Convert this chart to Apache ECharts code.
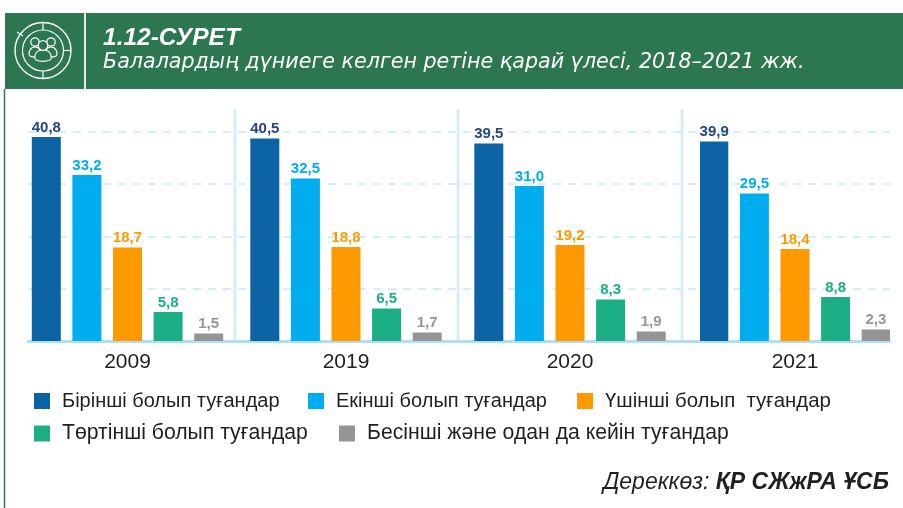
<!DOCTYPE html>
<html lang="kk">
<head>
<meta charset="utf-8">
<title>1.12-СУРЕТ</title>
<script src="https://cdn.jsdelivr.net/npm/echarts@6/dist/echarts.min.js"></script>
<style>
  html, body { margin: 0; background: #fff; }
  #chart { width: 903px; height: 508px; }
</style>
</head>
<body>
<div id="chart"></div>
<script>
var years = ['2009', '2019', '2020', '2021'];
var seriesNames = ['Бірінші болып туғандар', 'Екінші болып туғандар', 'Үшінші болып  туғандар', 'Төртінші болып туғандар', 'Бесінші және одан да кейін туғандар'];
var first = [40.8, 40.5, 39.5, 39.9];
var second = [33.2, 32.5, 31.0, 29.5];
var third = [18.7, 18.8, 19.2, 18.4];
var fourth = [5.8, 6.5, 8.3, 8.8];
var fifth = [1.5, 1.7, 1.9, 2.3];
var values = [first, second, third, fourth, fifth];

var barColors = ['#0c63a3', '#00aeef', '#ff9900', '#1cae85', '#959595'];
var labelColors = ['#27457f', '#00aeef', '#ff9900', '#1cae85', '#969696'];
var FONT = '"Liberation Sans", Arial, sans-serif';
var yMax = 41.8, yStep = 10.45;

// each year gets its own grid so the groups sit where they do in the picture
var yearBands = [[28, 227], [229, 463], [462, 678], [700, 890]];

var grids = [{ left: 28, width: 862, top: 132, height: 209 }];
var xAxes = [{
  gridIndex: 0, type: 'value', min: 0, max: 1,
  axisLine: { show: true, lineStyle: { color: '#ade0f7', width: 3 } },
  axisTick: { show: false }, axisLabel: { show: false }, splitLine: { show: false }
}];
var yAxes = [{
  gridIndex: 0, type: 'value', min: 0, max: yMax, interval: yStep,
  axisLine: { show: false }, axisTick: { show: false }, axisLabel: { show: false },
  splitLine: { show: true, lineStyle: { color: '#d5eefb', width: 2, type: [8, 7] } }
}];
var series = [];

years.forEach(function (year, i) {
  grids.push({ left: yearBands[i][0], width: yearBands[i][1] - yearBands[i][0], top: 132, height: 209 });
  xAxes.push({
    gridIndex: i + 1, type: 'category', data: [year],
    axisLine: { show: false }, axisTick: { show: false },
    axisLabel: { color: '#231f20', fontSize: 21, fontFamily: FONT, margin: 11 }
  });
  yAxes.push({ gridIndex: i + 1, type: 'value', min: 0, max: yMax, show: false });
  seriesNames.forEach(function (name, s) {
    series.push({
      name: name, type: 'bar', xAxisIndex: i + 1, yAxisIndex: i + 1,
      data: [values[s][i]], barWidth: 29, barGap: '40%',
      itemStyle: { color: barColors[s] },
      label: {
        show: true, position: 'top', distance: 2,
        color: labelColors[s], fontSize: 15, fontWeight: 'bold', fontFamily: FONT,
        formatter: function (p) { return p.value.toFixed(1).replace('.', ','); }
      }
    });
  });
});

var legendSpots = [[34, 391], [308, 391], [577, 391], [34, 423], [339, 423]];
var legendSizes = [20, 20, 20.4, 21.2, 21.2];
var legends = seriesNames.map(function (name, s) {
  return {
    left: legendSpots[s][0], top: legendSpots[s][1], padding: 0, data: [{ name: name, icon: 'rect' }],
    itemWidth: 16, itemHeight: 16, selectedMode: false,
    textStyle: { color: '#231f20', fontSize: legendSizes[s], fontFamily: FONT, padding: [1, 0, 0, 7] }
  };
});

function sep(x) {
  return { type: 'line', z: 0, shape: { x1: x, y1: 109, x2: x, y2: 341 }, style: { stroke: '#d5eefb', lineWidth: 3 } };
}
function ring(r, w) {
  return { type: 'circle', z: 5, shape: { cx: 43, cy: 50.5, r: r }, style: { fill: null, stroke: '#fff', lineWidth: w } };
}
function iconLine(x1, y1, x2, y2) {
  return { type: 'line', z: 5, shape: { x1: x1, y1: y1, x2: x2, y2: y2 }, style: { stroke: '#fff', lineWidth: 1.2 } };
}
function head(x, y, r) {
  return { type: 'circle', z: 6, shape: { cx: x, cy: y, r: r }, style: { fill: '#2c7650', stroke: '#fff', lineWidth: 1.2 } };
}
function body(points) {
  return { type: 'polygon', z: 6, shape: { points: points, smooth: 0.4 }, style: { fill: '#2c7650', stroke: '#fff', lineWidth: 1.2 } };
}

var option = {
  animation: false,
  backgroundColor: '#fff',
  title: [
    { text: '1.12-СУРЕТ', left: 98, top: 21,
      textStyle: { color: '#fff', fontSize: 24.5, fontWeight: 'bold', fontStyle: 'italic', fontFamily: FONT } },
    { text: 'Балалардың дүниеге келген ретіне қарай үлесі, 2018–2021 жж.', left: 98, top: 47,
      textStyle: { color: '#fff', fontSize: 20.65, fontWeight: 'normal', fontStyle: 'italic', fontFamily: '"DejaVu Sans", sans-serif' } },
    { text: '{a|Дереккөз: }{b|ҚР СЖжРА ҰСБ}', right: 9, top: 466,
      textStyle: { rich: {
        a: { color: '#231f20', fontSize: 23, fontStyle: 'italic', fontWeight: 'normal', fontFamily: FONT },
        b: { color: '#231f20', fontSize: 23, fontStyle: 'italic', fontWeight: 'bold', fontFamily: FONT }
      } } }
  ],
  legend: legends,
  grid: grids,
  xAxis: xAxes,
  yAxis: yAxes,
  series: series,
  graphic: [
    { type: 'rect', z: 1, shape: { x: 5, y: 13, width: 898, height: 76 }, style: { fill: '#2c7650' } },
    { type: 'line', z: 1, shape: { x1: 4.5, y1: 89, x2: 4.5, y2: 508 }, style: { stroke: '#2c7650', lineWidth: 1.5 } },
    { type: 'line', z: 2, shape: { x1: 85, y1: 13, x2: 85, y2: 89 }, style: { stroke: '#e4eee8', lineWidth: 2 } },
    sep(235), sep(458), sep(682),
    ring(28, 1.4), ring(20.5, 1.2),
    iconLine(43, 22.5, 43, 30), iconLine(63.5, 50.5, 71, 50.5), iconLine(43, 71, 43, 78.5), iconLine(23, 36, 17, 32),
    body([[30, 56], [30, 50], [35, 47], [40, 50], [40, 56]]),
    body([[46, 56], [46, 50], [51, 47], [56, 50], [56, 56]]),
    head(35, 42, 4.2), head(51, 42, 4.2),
    body([[36, 60], [36, 53], [43, 50], [50, 53], [50, 60]]),
    head(43, 45.5, 4.8)
  ]
};

var chart = echarts.init(document.getElementById('chart'), null, { renderer: 'canvas' });
chart.setOption(option);
</script>
</body>
</html>
